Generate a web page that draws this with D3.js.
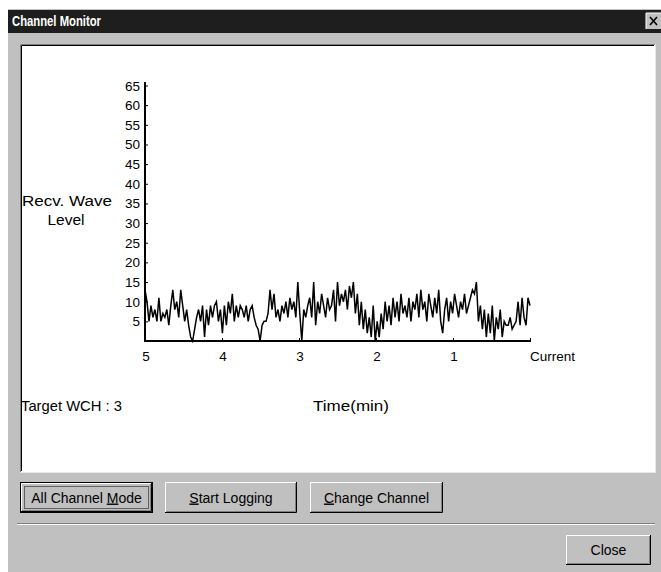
<!DOCTYPE html>
<meta charset="utf-8">
<title>Channel Monitor</title>
<script src="https://d3js.org/d3.v7.min.js"></script>
<style>
	body { margin: 0; background: #fff; }
	svg { display: block; font-family: "Liberation Sans", Arial, sans-serif; }
</style>
<body>
<script>

// received wave level samples, oldest (5 min ago) to current
var levels = [
	13,10,5,9,6,8,5,11,5,7,6,8,4,9,13,8,10,6,13,9,5,8,4,
	1,0,3,6,8,
	5,9,1,8,4,9,6,9,10,5,8,2,9,4,10,7,12,5,9,6,9,8,6,9,5,8,9,6,4,3,
	0,4,
	5,5,7,13,8,12,6,8,5,9,7,10,6,11,8,10,6,15,7,
	0,8,
	6,9,11,6,15,4,10,7,12,9,6,11,8,9,13,5,15,9,12,10,13,8,14,11,15,7,12,
	4,10,3,8,2,6,1,9,0,5,
	1,7,3,10,5,9,4,11,6,10,5,12,7,9,6,11,5,10,8,12,
	6,13,8,10,5,12,9,6,11,7,13,5,2,
	8,11,5,10,7,12,9,6,10,8,12,7,9,11,13,12,15,
	5,9,3,8,1,7,2,9,0,6,3,8,1,5,
	4,4,6,3,4,5,10,4,11,6,4,11,9
];
var yTicks = [5,10,15,20,25,30,35,40,45,50,55,60,65];
var xTicks = [5,4,3,2,1,0];
var xTickLabels = ["5","4","3","2","1","Current"];
var buttons = [
	{label: "All Channel Mode", key: "M", x: 20, w: 133, isDefault: true},
	{label: "Start Logging", key: "S", x: 165, w: 132},
	{label: "Change Channel", key: "C", x: 310, w: 133}
];

var W = 661, H = 572;
var svg = d3.select("body").append("svg").attr("width", W).attr("height", H);

// window frame
svg.append("rect").attr("x", 8).attr("y", 9).attr("width", W - 8).attr("height", H - 9).attr("fill", "#c0c0c0");
svg.append("rect").attr("x", 8).attr("y", 10).attr("width", W - 8).attr("height", 23).attr("fill", "#1e1e1e");
svg.append("text").attr("x", 12).attr("y", 26).attr("fill", "#fff")
	.attr("font-size", 14).attr("font-weight", "bold")
	.attr("textLength", 89).attr("lengthAdjust", "spacingAndGlyphs").text("Channel Monitor");

// title close box
var cb = svg.append("g").attr("transform", "translate(646,13)");
cb.append("rect").attr("width", 16).attr("height", 16).attr("fill", "#c0c0c0");
cb.append("path").attr("d", "M0,16V0H16").attr("stroke", "#fff").attr("fill", "none");
cb.append("path").attr("d", "M4,4L11,12M11,4L4,12").attr("stroke", "#000").attr("stroke-width", 1.6);

// sunken white panel
svg.append("rect").attr("x", 20).attr("y", 44).attr("width", 635).attr("height", 429).attr("fill", "#fff");
svg.append("path").attr("d", "M20.5,472V44.5H655").attr("stroke", "#808080").attr("fill", "none");
svg.append("path").attr("d", "M21.5,471V45.5H654").attr("stroke", "#000").attr("fill", "none");
svg.append("path").attr("d", "M20,472.5H655.5V44").attr("stroke", "#e8e8e8").attr("fill", "none");

// plot
var x = d3.scaleLinear().domain([5, 0]).range([145, 530]);
var y = d3.scaleLinear().domain([0, 65]).range([341, 85.5]);

var plot = svg.append("g");

var line = d3.line()
	.x(function(d, i) { return x(5 - i * 5 / (levels.length - 1)); })
	.y(function(d) { return y(d); });

plot.append("path").datum(levels).attr("d", line)
	.attr("fill", "none").attr("stroke", "#000").attr("stroke-width", 1.5);

var yAxis = plot.append("g").attr("transform", "translate(145,0)")
	.call(d3.axisRight(y).tickValues(yTicks).tickSize(3).tickFormat(""));
yAxis.select(".domain").remove();
yAxis.selectAll("line").attr("stroke", "#000");
plot.append("line").attr("x1", 145).attr("x2", 145).attr("y1", 82).attr("y2", 342)
	.attr("stroke", "#000").attr("stroke-width", 2);

plot.selectAll(".ylab").data(yTicks).enter().append("text")
	.attr("class", "ylab").attr("x", 140).attr("y", function(d) { return y(d) + 5; })
	.attr("text-anchor", "end").attr("font-size", 13.5).attr("fill", "#000")
	.text(function(d) { return d; });

var xAxis = plot.append("g").attr("transform", "translate(0,341)")
	.call(d3.axisTop(x).tickValues(xTicks).tickSize(3).tickFormat(""));
xAxis.select(".domain").remove();
xAxis.selectAll("line").attr("stroke", "#000");
plot.append("line").attr("x1", 144).attr("x2", 531).attr("y1", 341).attr("y2", 341)
	.attr("stroke", "#000").attr("stroke-width", 2);

plot.selectAll(".xlab").data(xTicks).enter().append("text")
	.attr("class", "xlab").attr("x", function(d) { return x(d) + (d === 0 ? 0 : 1); })
	.attr("y", 361).attr("font-size", 13.5).attr("fill", "#000")
	.attr("text-anchor", function(d) { return d === 0 ? "start" : "middle"; })
	.text(function(d, i) { return xTickLabels[i]; });

// labels
var lab = svg.append("g").attr("font-size", 15.5).attr("fill", "#000");
lab.append("text").attr("x", 22).attr("y", 206).attr("textLength", 90).attr("lengthAdjust", "spacingAndGlyphs").text("Recv. Wave");
lab.append("text").attr("x", 66).attr("y", 225).attr("text-anchor", "middle").text("Level");
lab.append("text").attr("x", 21).attr("y", 411).attr("textLength", 101).attr("lengthAdjust", "spacingAndGlyphs").text("Target WCH : 3");
lab.append("text").attr("x", 313).attr("y", 411).attr("textLength", 76).attr("lengthAdjust", "spacingAndGlyphs").text("Time(min)");

// buttons
function button(g, b, y0, h) {
	var bg = g.append("g").attr("transform", "translate(" + b.x + "," + y0 + ")");
	bg.append("rect").attr("width", b.w).attr("height", h).attr("fill", "#c0c0c0");
	var o = b.isDefault ? 1 : 0;
	if (b.isDefault) bg.append("rect").attr("x", 0.5).attr("y", 0.5).attr("width", b.w - 1).attr("height", h - 1)
		.attr("fill", "none").attr("stroke", "#000");
	bg.append("path").attr("d", "M" + (o + 0.5) + "," + (h - o - 1) + "V" + (o + 0.5) + "H" + (b.w - o - 1))
		.attr("stroke", "#fff").attr("fill", "none");
	bg.append("path").attr("d", "M" + (o) + "," + (h - o - 0.5) + "H" + (b.w - o - 0.5) + "V" + o)
		.attr("stroke", "#000").attr("fill", "none");
	bg.append("path").attr("d", "M" + (o + 1) + "," + (h - o - 1.5) + "H" + (b.w - o - 1.5) + "V" + (o + 1))
		.attr("stroke", "#808080").attr("fill", "none");
	if (b.isDefault) bg.append("rect").attr("x", 4.5).attr("y", 4.5).attr("width", b.w - 9).attr("height", h - 9)
		.attr("fill", "none").attr("stroke", "#000").attr("stroke-dasharray", "1,1");
	var t = bg.append("text").attr("x", b.w / 2).attr("y", h / 2 + 5).attr("text-anchor", "middle")
		.attr("font-size", 14).attr("fill", "#000");
	var k = b.key ? b.label.indexOf(b.key) : -1;
	if (k >= 0) {
		t.append("tspan").text(b.label.slice(0, k));
		t.append("tspan").attr("text-decoration", "underline").text(b.label.slice(k, k + 1));
		t.append("tspan").text(b.label.slice(k + 1));
	} else {
		t.text(b.label);
	}
}
var bar = svg.append("g");
buttons.forEach(function(b) { button(bar, b, 482, 31); });

// separator
svg.append("line").attr("x1", 17).attr("x2", 655).attr("y1", 523.5).attr("y2", 523.5).attr("stroke", "#808080");
svg.append("line").attr("x1", 17).attr("x2", 655).attr("y1", 524.5).attr("y2", 524.5).attr("stroke", "#fff");

button(bar, {label: "Close", x: 566, w: 85}, 535, 30);

</script>
